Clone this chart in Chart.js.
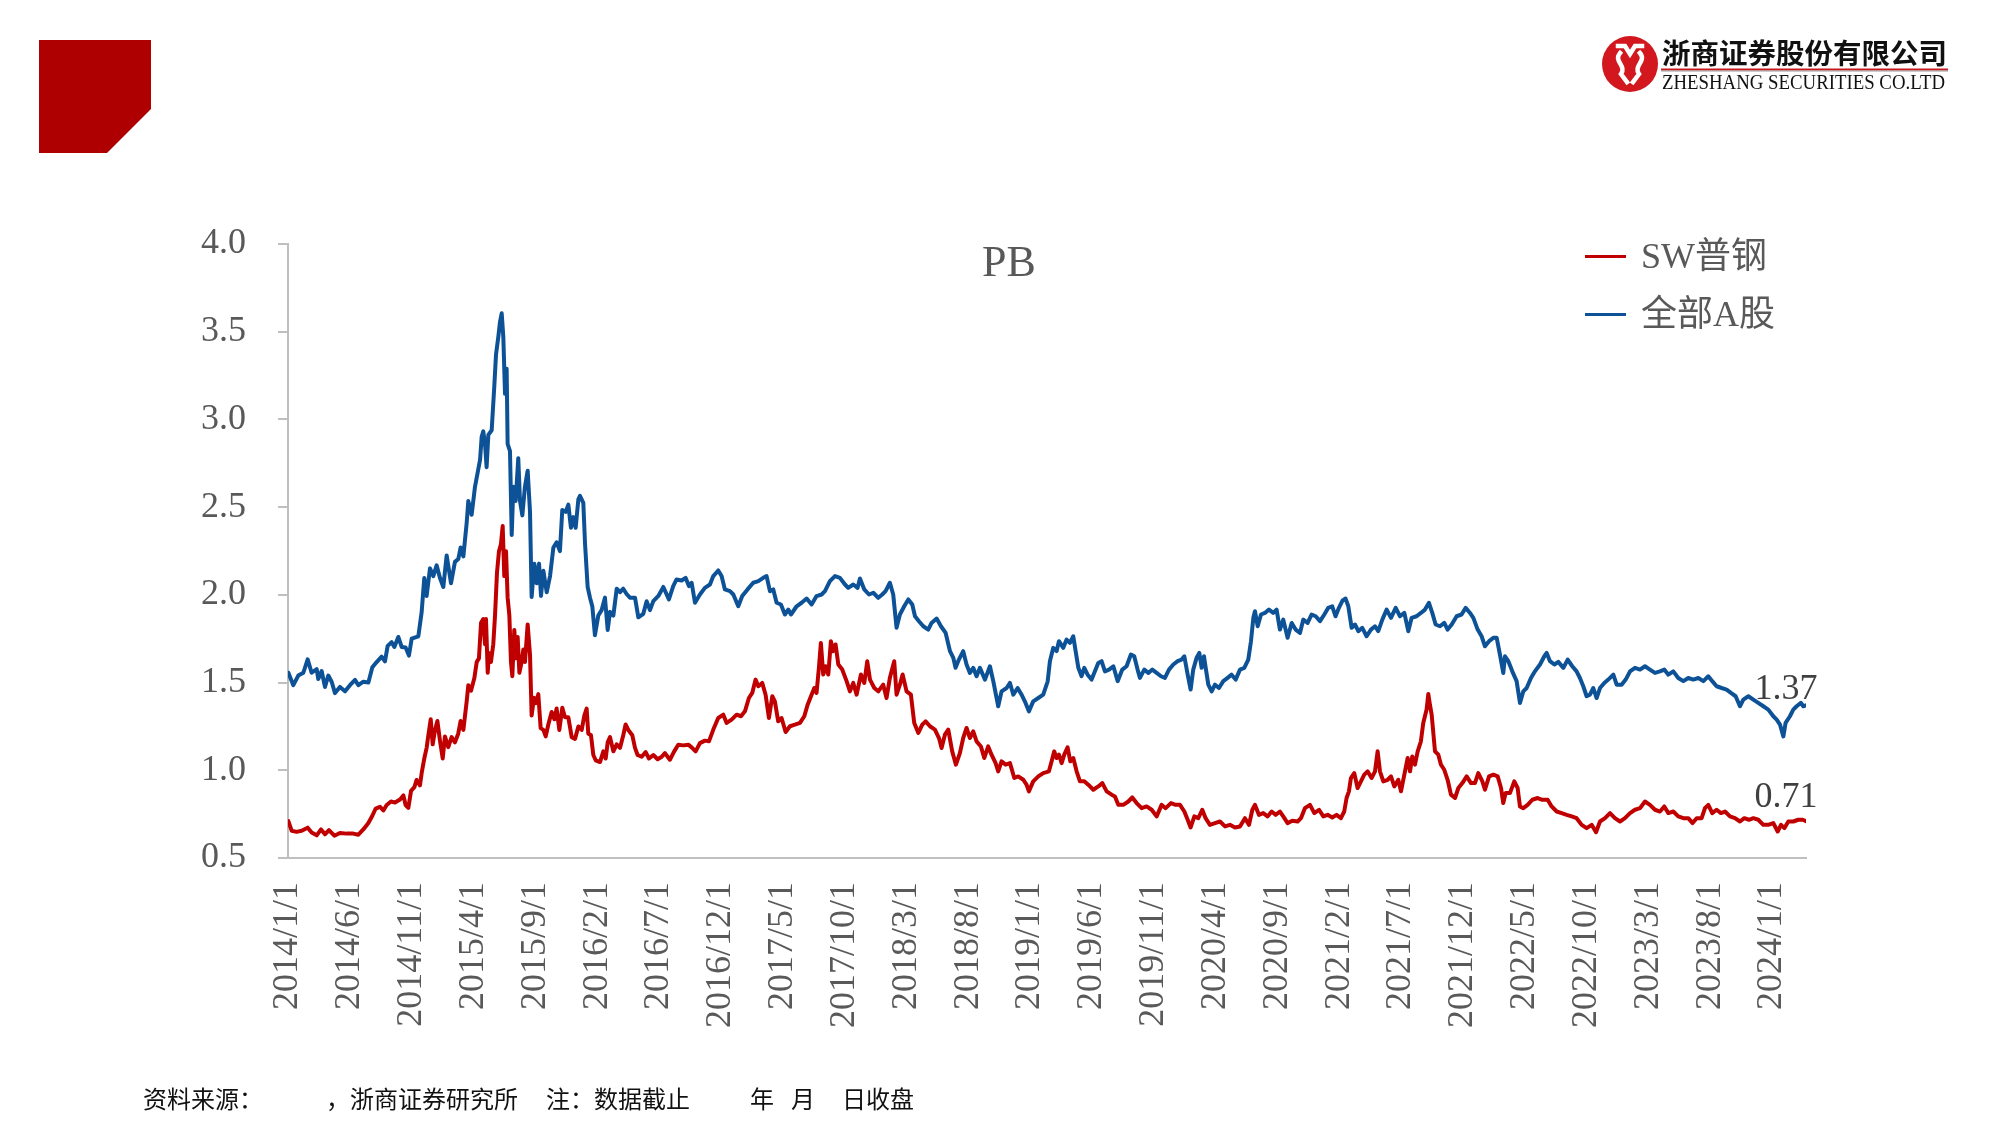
<!DOCTYPE html>
<html lang="zh-CN">
<head>
<meta charset="utf-8">
<title>PB</title>
<script src="https://cdn.jsdelivr.net/npm/chart.js@4.4.1/dist/chart.umd.min.js"></script>
<style>
  html, body { margin: 0; padding: 0; background: #fff; }
  #page { position: relative; width: 2000px; height: 1125px; overflow: hidden; background: #fff; }
  #pbChart { position: absolute; left: 0; top: 0; }
  .serif { font-family: "Liberation Serif", "Times New Roman", "Noto Sans CJK SC", serif; color: #595959; }
  #title { position: absolute; left: 909px; width: 200px; top: 240px; text-align: center; font-size: 44px; line-height: 44px; }
  .legend-line { position: absolute; left: 1585px; width: 41px; height: 3px; }
  .legend-text { position: absolute; left: 1641px; font-size: 36px; line-height: 36px; white-space: nowrap; }
  .foot { position: absolute; top: 1086px; font-family: "Noto Sans CJK SC", sans-serif; font-size: 24px; line-height: 24px; color: #111; white-space: pre; }
  #header { position: absolute; left: 0; top: 0; }
</style>
</head>
<body>
<div id="page">
  <canvas id="pbChart" width="2000" height="1125"></canvas>

  <svg id="header" width="2000" height="160" viewBox="0 0 2000 160">
    <polygon points="39,40 151,40 151,109 107,153 39,153" fill="#AE0000"/>
    <circle cx="1630" cy="64" r="28" fill="#D2171E"/>
    <g transform="translate(1630,64)" fill="none" stroke="#fff" stroke-width="4.5" stroke-linecap="square">
      <path d="M -12 -18 L -5 -18 L 0 -10 L 5 -18 L 12 -18"/>
      <path d="M -10 -11 C -17 -3, -3 2, -9 10 L -3 18"/>
      <path d="M 10 -11 C 17 -3, 3 2, 9 10 L 3 18"/>
    </g>
    <text x="1662" y="64" font-family="Noto Sans CJK SC" font-weight="700" font-size="28" textLength="285" lengthAdjust="spacingAndGlyphs" fill="#111">浙商证券股份有限公司</text>
    <rect x="1661" y="68.5" width="287" height="2" fill="#C8161D"/>
    <rect x="1661" y="70.5" width="287" height="1" fill="#9a9a9a"/>
    <text x="1662" y="89" font-family="Liberation Serif" font-size="20" textLength="283" lengthAdjust="spacingAndGlyphs" fill="#111">ZHESHANG SECURITIES CO.LTD</text>
  </svg>

  <div id="title" class="serif">PB</div>

  <div class="legend-line" style="top:255px; background:#C00000;"></div>
  <div class="legend-text serif" style="top:238px;">SW普钢</div>
  <div class="legend-line" style="top:313px; background:#0D5296;"></div>
  <div class="legend-text serif" style="top:296px;">全部A股</div>

  <span class="foot" style="left:143px;">资料来源：</span>
  <span class="foot" style="left:326px;">，浙商证券研究所</span>
  <span class="foot" style="left:546px;">注：数据截止</span>
  <span class="foot" style="left:750px;">年</span>
  <span class="foot" style="left:791px;">月</span>
  <span class="foot" style="left:842px;">日收盘</span>
</div>

<script>
// x values are months since 2014/1/1
const xTickMonths = [0, 5, 10, 15, 20, 25, 30, 35, 40, 45, 50, 55, 60, 65, 70, 75, 80, 85, 90, 95, 100, 105, 110, 115, 120];
const xTickLabels = ['2014/1/1', '2014/6/1', '2014/11/1', '2015/4/1', '2015/9/1', '2016/2/1', '2016/7/1',
  '2016/12/1', '2017/5/1', '2017/10/1', '2018/3/1', '2018/8/1', '2019/1/1', '2019/6/1', '2019/11/1',
  '2020/4/1', '2020/9/1', '2021/2/1', '2021/7/1', '2021/12/1', '2022/5/1', '2022/10/1', '2023/3/1',
  '2023/8/1', '2024/1/1'];
const xMax = 122.75;

// SW普钢 PB
const steelPB = [
  [0.03,0.71],[0.3,0.655],[0.7,0.649],[1.1,0.655],[1.59,0.673],[1.91,0.645],[2.32,0.629],[2.67,0.663],[2.99,0.635],[3.31,0.659],
  [3.75,0.627],[4.2,0.643],[4.74,0.639],[5.28,0.639],[5.69,0.633],[6.09,0.663],[6.5,0.70],[6.82,0.741],[7.09,0.782],[7.44,0.792],
  [7.71,0.771],[7.98,0.802],[8.33,0.822],[8.65,0.816],[9.06,0.833],[9.33,0.857],[9.51,0.802],[9.73,0.786],[9.95,0.883],[10.22,0.904],
  [10.4,0.945],[10.67,0.914],[10.81,0.985],[11.02,1.067],[11.21,1.128],[11.35,1.2],[11.54,1.291],[11.7,1.148],[11.89,1.23],[12.08,1.281],
  [12.29,1.169],[12.51,1.067],[12.69,1.193],[12.96,1.132],[13.23,1.189],[13.5,1.159],[13.77,1.21],[13.96,1.281],[14.18,1.23],[14.45,1.393],
  [14.58,1.485],[14.8,1.454],[15.07,1.526],[15.26,1.617],[15.44,1.638],[15.61,1.841],[15.79,1.862],[15.93,1.719],[16.01,1.862],[16.15,1.556],
  [16.25,1.668],[16.41,1.617],[16.6,1.719],[16.74,1.882],[16.9,2.127],[17.06,2.249],[17.22,2.29],[17.36,2.392],[17.49,2.107],[17.63,2.249],
  [17.76,1.984],[17.9,1.882],[18.03,1.617],[18.14,1.536],[18.3,1.8],[18.44,1.638],[18.57,1.76],[18.71,1.556],[18.89,1.617],[19.03,1.689],
  [19.16,1.617],[19.38,1.831],[19.57,1.658],[19.7,1.312],[19.89,1.413],[20.05,1.383],[20.24,1.434],[20.43,1.24],[20.65,1.23],[20.84,1.193],
  [21.05,1.261],[21.32,1.332],[21.54,1.291],[21.72,1.352],[21.94,1.23],[22.18,1.356],[22.4,1.302],[22.67,1.302],[22.94,1.189],[23.21,1.179],
  [23.48,1.25],[23.75,1.23],[23.96,1.312],[24.15,1.352],[24.28,1.21],[24.5,1.2],[24.69,1.087],[24.88,1.057],[25.23,1.047],[25.5,1.108],
  [25.69,1.067],[25.85,1.159],[26.04,1.189],[26.31,1.108],[26.58,1.148],[26.85,1.128],[27.11,1.2],[27.3,1.261],[27.52,1.23],[27.84,1.2],
  [28.06,1.128],[28.27,1.087],[28.6,1.077],[28.92,1.104],[29.19,1.067],[29.54,1.087],[29.89,1.063],[30.22,1.077],
  [30.48,1.098],[30.88,1.06],[31.23,1.108],[31.56,1.146],[31.96,1.142],[32.37,1.146],[32.64,1.131],[32.96,1.108],[33.31,1.155],[33.71,1.169],
  [34.04,1.165],[34.39,1.232],[34.79,1.298],[35.2,1.317],[35.47,1.27],[35.87,1.289],[36.28,1.317],[36.63,1.308],[36.95,1.336],[37.27,1.412],
  [37.54,1.441],[37.81,1.517],[38.03,1.479],[38.35,1.498],[38.62,1.431],[38.89,1.298],[39.16,1.422],[39.37,1.393],[39.64,1.279],[39.91,1.298],
  [40.24,1.218],[40.59,1.251],[40.99,1.26],[41.4,1.27],[41.75,1.308],[42.02,1.374],[42.29,1.422],[42.56,1.469],[42.74,1.441],[42.93,1.584],
  [43.09,1.726],[43.28,1.546],[43.47,1.593],[43.69,1.546],[43.9,1.736],[44.09,1.679],[44.28,1.717],[44.5,1.603],[44.82,1.574],[45.17,1.508],
  [45.44,1.45],[45.71,1.498],[45.98,1.431],[46.33,1.546],[46.6,1.498],[46.84,1.622],[47.06,1.517],[47.41,1.469],[47.73,1.45],[48.13,1.488],
  [48.4,1.412],[48.67,1.527],[49.02,1.622],[49.21,1.431],[49.48,1.488],[49.7,1.546],[50.02,1.45],[50.37,1.431],[50.64,1.27],[50.97,1.213],
  [51.29,1.26],[51.56,1.279],[51.91,1.251],[52.31,1.232],[52.64,1.184],[52.85,1.127],[53.12,1.203],[53.39,1.232],[53.71,1.108],[54.01,1.032],
  [54.33,1.098],[54.6,1.184],[54.87,1.241],[55.14,1.184],[55.41,1.222],[55.68,1.165],[56.03,1.136],[56.3,1.07],[56.62,1.136],[56.89,1.089],
  [57.22,1.041],[57.43,0.994],[57.7,1.051],[58.03,1.032],[58.38,1.041],[58.73,0.956],[59.05,0.965],[59.46,0.946],[59.72,0.918],[59.91,0.88],
  [60.26,0.937],[60.67,0.965],[61.07,0.984],
  [61.53,0.994],[61.75,1.051],[61.96,1.108],[62.15,1.07],[62.34,1.089],[62.56,1.041],[62.77,1.089],[63.04,1.131],[63.26,1.051],[63.5,1.07],
  [63.77,0.994],[64.04,0.937],[64.39,0.937],[64.71,0.918],[65.12,0.889],[65.52,0.908],[65.85,0.927],[66.2,0.88],[66.6,0.861],[66.87,0.851],
  [67.14,0.803],[67.54,0.803],[67.95,0.822],[68.27,0.845],[68.62,0.813],[69.03,0.784],[69.43,0.794],[69.84,0.775],[70.24,0.737],[70.64,0.803],
  [70.97,0.784],[71.4,0.813],[71.78,0.803],[72.13,0.803],[72.48,0.765],[72.75,0.718],[72.99,0.674],[73.29,0.737],[73.61,0.727],[73.93,0.775],
  [74.2,0.727],[74.55,0.689],[74.96,0.699],[75.36,0.708],[75.77,0.68],[76.17,0.689],[76.57,0.674],[76.98,0.68],[77.38,0.727],[77.71,0.689],
  [77.98,0.775],[78.19,0.803],[78.51,0.746],[78.86,0.756],[79.21,0.737],[79.54,0.765],[79.86,0.746],[80.21,0.765],[80.48,0.737],[80.83,0.699],
  [81.21,0.712],[81.64,0.708],[81.91,0.727],[82.23,0.784],[82.64,0.803],[82.99,0.756],[83.37,0.775],[83.72,0.737],[84.07,0.746],[84.44,0.731],
  [84.79,0.746],[85.14,0.727],[85.41,0.765],[85.6,0.842],[85.79,0.88],[85.95,0.956],[86.22,0.984],[86.49,0.899],[86.76,0.937],[87.03,0.975],
  [87.3,0.994],[87.62,0.956],[87.9,0.994],[88.11,1.108],[88.3,0.994],[88.57,0.937],[88.92,0.946],[89.19,0.965],[89.46,0.908],[89.78,0.946],
  [90.0,0.88],[90.27,0.975],[90.54,1.07],[90.73,0.994],[90.91,1.079],[91.13,1.032],[91.35,1.108],[91.61,1.165],[91.8,1.27],[92.07,1.346],
  [92.21,1.435],[92.34,1.374],
  [92.48,1.317],[92.75,1.108],[93.02,1.089],[93.23,1.032],[93.5,1.003],[93.77,0.946],[94.04,0.861],[94.37,0.842],[94.64,0.899],[94.96,0.927],
  [95.31,0.965],[95.66,0.927],[95.98,0.927],[96.25,0.984],[96.58,0.937],[96.79,0.889],[97.12,0.965],[97.47,0.975],[97.82,0.965],[98.09,0.899],
  [98.27,0.813],[98.46,0.87],[98.81,0.87],[99.16,0.937],[99.43,0.899],[99.62,0.794],[99.89,0.784],[100.24,0.803],[100.62,0.832],[101.05,0.842],
  [101.43,0.832],[101.86,0.832],[102.18,0.794],[102.59,0.765],[102.99,0.756],[103.4,0.746],[103.8,0.737],[104.2,0.727],[104.61,0.689],[105.01,0.67],
  [105.42,0.689],[105.77,0.647],[106.09,0.708],[106.5,0.727],[106.9,0.756],[107.3,0.727],[107.71,0.708],[108.11,0.727],[108.52,0.756],[108.92,0.775],
  [109.33,0.784],[109.73,0.822],[110.13,0.803],[110.54,0.775],[110.94,0.765],[111.29,0.794],[111.62,0.756],[112.02,0.765],[112.42,0.737],[112.83,0.727],
  [113.23,0.727],[113.58,0.699],[113.91,0.727],[114.31,0.727],[114.58,0.784],[114.85,0.803],[115.17,0.756],[115.52,0.775],[115.87,0.756],[116.2,0.765],
  [116.6,0.737],[117.01,0.727],[117.41,0.708],[117.76,0.727],[118.14,0.718],[118.49,0.727],[118.89,0.718],[119.3,0.689],[119.7,0.689],[120.11,0.699],
  [120.46,0.651],[120.73,0.689],[121.0,0.67],[121.32,0.708],[121.72,0.708],[122.13,0.718],[122.48,0.718],[122.75,0.71]
];

// 全部A股 PB
const allAPB = [
  [0.03,1.556],[0.43,1.485],[0.83,1.54],[1.24,1.556],[1.59,1.632],[1.91,1.556],[2.32,1.577],[2.45,1.52],[2.72,1.566],[2.99,1.475],
  [3.26,1.54],[3.53,1.505],[3.8,1.44],[4.2,1.475],[4.61,1.45],[5.01,1.485],[5.42,1.515],[5.69,1.485],[6.09,1.505],[6.5,1.5],
  [6.82,1.587],[7.17,1.617],[7.57,1.648],[7.84,1.621],[8.06,1.709],[8.38,1.73],[8.6,1.703],[8.92,1.76],[9.19,1.703],[9.51,1.70],
  [9.78,1.654],[10.0,1.75],[10.54,1.764],[10.81,1.903],[11.02,2.096],[11.21,1.994],[11.48,2.151],[11.75,2.107],[12.02,2.168],[12.29,2.096],
  [12.56,2.045],[12.83,2.225],[13.18,2.066],[13.5,2.188],[13.77,2.204],[13.96,2.27],[14.18,2.219],[14.45,2.412],[14.58,2.535],[14.85,2.457],
  [15.12,2.616],[15.34,2.698],[15.53,2.769],[15.66,2.901],[15.79,2.932],[15.93,2.861],[16.06,2.728],[16.2,2.912],[16.47,2.938],[16.68,3.187],
  [16.82,3.37],[17.01,3.472],[17.14,3.554],[17.28,3.605],[17.41,3.472],[17.55,3.146],[17.68,3.289],[17.76,2.861],[17.95,2.82],[18.09,2.341],
  [18.22,2.616],[18.41,2.535],[18.62,2.779],[18.76,2.535],[18.95,2.453],[19.16,2.616],[19.38,2.708],[19.57,2.473],[19.7,1.988],[19.92,2.178],
  [20.11,2.066],[20.3,2.178],[20.46,1.994],[20.65,2.137],[20.92,2.015],[21.19,2.107],[21.46,2.27],[21.72,2.30],[21.99,2.249],[22.18,2.484],
  [22.45,2.473],[22.67,2.514],[22.88,2.382],[23.07,2.443],[23.26,2.382],[23.48,2.545],[23.61,2.565],[23.88,2.524],[24.02,2.29],[24.23,2.045],
  [24.42,1.984],[24.61,1.933],[24.82,1.77],[25.09,1.882],[25.36,1.913],[25.63,1.984],[25.85,1.8],[26.04,1.903],[26.31,1.882],[26.58,2.035],
  [26.85,2.015],[27.11,2.035],[27.38,2.005],[27.65,1.984],[28.06,1.984],[28.33,1.872],[28.73,1.892],[29.0,1.964],[29.27,1.913],[29.54,1.964],
  [29.95,1.994],[30.35,2.045],
  [30.8,1.974],[31.15,2.05],[31.42,2.088],[31.83,2.082],[32.15,2.097],[32.42,2.05],[32.64,2.069],[32.91,1.955],[33.31,2.002],[33.71,2.04],
  [34.12,2.059],[34.39,2.107],[34.79,2.139],[35.06,2.107],[35.33,2.031],[35.74,2.021],[36.01,2.002],[36.41,1.935],[36.73,1.993],[37.16,2.031],
  [37.62,2.069],[38.03,2.078],[38.43,2.097],[38.7,2.107],[38.97,2.021],[39.24,2.031],[39.51,1.955],[39.86,1.945],[40.18,1.888],[40.45,1.916],
  [40.67,1.888],[41.13,1.935],[41.53,1.955],[41.94,1.979],[42.34,1.945],[42.74,1.993],[43.15,2.002],[43.42,2.021],[43.82,2.078],[44.23,2.107],
  [44.63,2.097],[45.04,2.059],[45.3,2.04],[45.71,2.059],[46.06,2.04],[46.25,2.093],[46.6,2.031],[46.98,2.002],[47.33,2.012],[47.73,1.983],
  [48.05,2.002],[48.32,2.021],[48.67,2.069],[48.94,2.002],[49.21,1.812],[49.48,1.888],[49.83,1.935],[50.16,1.974],[50.48,1.945],[50.7,1.878],
  [51.02,1.85],[51.37,1.821],[51.77,1.802],[52.04,1.84],[52.45,1.865],[52.8,1.821],[53.18,1.783],[53.53,1.679],[53.8,1.641],[53.98,1.584],
  [54.25,1.631],[54.6,1.679],[54.87,1.603],[55.14,1.555],[55.41,1.584],[55.68,1.536],[55.95,1.584],[56.36,1.517],[56.76,1.593],[57.03,1.508],
  [57.43,1.365],[57.7,1.45],[58.11,1.469],[58.38,1.498],[58.65,1.431],[59.0,1.469],[59.32,1.431],[59.64,1.384],[59.91,1.336],[60.26,1.393],
  [60.67,1.412],[61.07,1.431],
  [61.43,1.507],[61.61,1.622],[61.88,1.698],[62.15,1.679],[62.34,1.736],[62.69,1.698],[62.96,1.745],[63.23,1.726],[63.5,1.764],[63.69,1.679],
  [63.91,1.584],[64.17,1.536],[64.39,1.584],[64.66,1.545],[64.98,1.517],[65.25,1.564],[65.52,1.612],[65.79,1.622],[66.06,1.564],[66.39,1.574],
  [66.74,1.593],[67.09,1.508],[67.46,1.574],[67.81,1.593],[68.16,1.66],[68.43,1.65],[68.7,1.574],[68.89,1.527],[69.24,1.574],[69.57,1.555],
  [69.89,1.574],[70.24,1.555],[70.59,1.536],[70.91,1.527],[71.24,1.574],[71.59,1.603],[71.94,1.622],[72.26,1.631],[72.48,1.65],[72.75,1.545],
  [72.99,1.46],[73.2,1.574],[73.47,1.641],[73.69,1.669],[73.88,1.584],[74.07,1.65],[74.23,1.574],[74.42,1.488],[74.69,1.45],[74.96,1.488],
  [75.28,1.469],[75.63,1.508],[75.98,1.527],[76.3,1.545],[76.63,1.517],[76.98,1.574],[77.33,1.584],[77.65,1.631],[77.87,1.736],[78.06,1.869],
  [78.19,1.907],[78.41,1.821],[78.68,1.888],[79.0,1.897],[79.32,1.916],[79.67,1.897],[79.94,1.916],[80.21,1.802],[80.48,1.859],[80.83,1.755],
  [81.16,1.84],[81.48,1.802],[81.83,1.783],[82.1,1.859],[82.45,1.84],[82.77,1.888],[83.1,1.878],[83.45,1.85],[83.8,1.888],[84.12,1.926],
  [84.44,1.935],[84.71,1.878],[84.98,1.926],[85.28,1.968],[85.52,1.979],[85.74,1.935],[86.01,1.812],[86.28,1.831],[86.55,1.793],[86.87,1.812],
  [87.22,1.764],[87.57,1.802],[87.9,1.821],[88.16,1.793],[88.49,1.859],[88.84,1.916],[89.19,1.869],[89.57,1.926],[89.92,1.878],[90.27,1.897],
  [90.59,1.793],[90.86,1.869],[91.26,1.878],[91.61,1.897],[91.94,1.916],
  [92.26,1.955],[92.53,1.897],[92.8,1.831],[93.15,1.821],[93.5,1.84],[93.77,1.802],[94.1,1.831],[94.5,1.878],[94.9,1.888],[95.23,1.926],
  [95.58,1.897],[95.85,1.869],[96.2,1.802],[96.52,1.764],[96.79,1.707],[97.12,1.736],[97.47,1.755],[97.74,1.755],[98.0,1.66],[98.27,1.555],
  [98.41,1.65],[98.68,1.622],[99.0,1.564],[99.35,1.508],[99.62,1.384],[99.89,1.45],[100.16,1.469],[100.51,1.526],[100.83,1.564],[101.24,1.603],
  [101.59,1.65],[101.78,1.669],[102.05,1.622],[102.4,1.603],[102.72,1.618],[103.13,1.584],[103.48,1.631],[103.85,1.593],[104.2,1.564],[104.47,1.526],
  [104.74,1.479],[105.01,1.422],[105.28,1.431],[105.55,1.469],[105.82,1.412],[106.09,1.469],[106.44,1.498],[106.76,1.517],[107.17,1.545],[107.44,1.488],
  [107.84,1.488],[108.17,1.517],[108.52,1.564],[108.92,1.584],[109.33,1.574],[109.73,1.593],[110.13,1.574],[110.54,1.555],[110.94,1.564],[111.29,1.574],
  [111.62,1.545],[112.02,1.564],[112.42,1.526],[112.83,1.508],[113.23,1.526],[113.64,1.517],[114.04,1.526],[114.45,1.508],[114.85,1.536],[115.17,1.508],
  [115.52,1.479],[115.93,1.469],[116.33,1.46],[116.68,1.441],[117.06,1.422],[117.41,1.365],[117.68,1.403],[118.09,1.422],[118.49,1.403],[118.89,1.384],
  [119.3,1.365],[119.7,1.346],[120.11,1.308],[120.38,1.289],[120.65,1.26],[120.92,1.193],[121.1,1.27],[121.45,1.308],[121.72,1.346],[121.99,1.365],
  [122.34,1.384],[122.53,1.365],[122.75,1.37]
];

const serifFont = '"Liberation Serif", "Times New Roman", serif';
const axisGray = '#BFBFBF';
const textGray = '#595959';

// Last-value labels above the end of each line (per-dataset lift in px)
const endLabels = {
  id: 'endLabels',
  afterDatasetsDraw(chart) {
    const ctx = chart.ctx;
    ctx.save();
    ctx.font = '36px ' + serifFont;
    ctx.fillStyle = '#404040';
    ctx.textAlign = 'center';
    ctx.textBaseline = 'alphabetic';
    chart.data.datasets.forEach((ds, i) => {
      const pts = chart.getDatasetMeta(i).data;
      const last = pts[pts.length - 1];
      const val = ds.data[ds.data.length - 1].y;
      ctx.fillText(val.toFixed(2), last.x - 20, last.y - ds.labelLift);
    });
    ctx.restore();
  }
};

const ctx = document.getElementById('pbChart').getContext('2d');
const pbChart = new Chart(ctx, {
  type: 'line',
  data: {
    datasets: [
      {
        label: 'SW普钢',
        data: steelPB.map(p => ({ x: p[0], y: p[1] })),
        borderColor: '#C00000',
        backgroundColor: '#C00000',
        labelLift: 14
      },
      {
        label: '全部A股',
        data: allAPB.map(p => ({ x: p[0], y: p[1] })),
        borderColor: '#0D5296',
        backgroundColor: '#0D5296',
        labelLift: 6
      }
    ]
  },
  options: {
    responsive: false,
    animation: false,
    devicePixelRatio: 1,
    layout: { padding: { left: 0, top: 244, right: 194, bottom: 67 } },
    elements: {
      point: { radius: 0 },
      line: { borderWidth: 4, tension: 0, borderJoinStyle: 'round', borderCapStyle: 'round' }
    },
    plugins: {
      legend: { display: false },
      title: { display: false },
      tooltip: { enabled: false }
    },
    scales: {
      x: {
        type: 'linear',
        min: 0,
        max: xMax,
        afterBuildTicks: scale => { scale.ticks = xTickMonths.map(v => ({ value: v })); },
        afterFit: scale => { scale.height = 200; },
        grid: { display: true, drawOnChartArea: false, drawTicks: false },
        border: { color: axisGray, width: 2 },
        ticks: {
          autoSkip: false,
          minRotation: 90,
          maxRotation: 90,
          padding: 24,
          color: textGray,
          font: { family: serifFont, size: 36 },
          callback: (value, index) => xTickLabels[index]
        }
      },
      y: {
        min: 0.5,
        max: 4.0,
        afterFit: scale => { scale.width = 288; },
        grid: { drawOnChartArea: false, drawTicks: true, tickLength: 10, color: axisGray, lineWidth: 2 },
        border: { color: axisGray, width: 2 },
        ticks: {
          stepSize: 0.5,
          padding: 32,
          color: textGray,
          font: { family: serifFont, size: 36 },
          callback: value => value.toFixed(1)
        }
      }
    }
  },
  plugins: [endLabels]
});
</script>
</body>
</html>
